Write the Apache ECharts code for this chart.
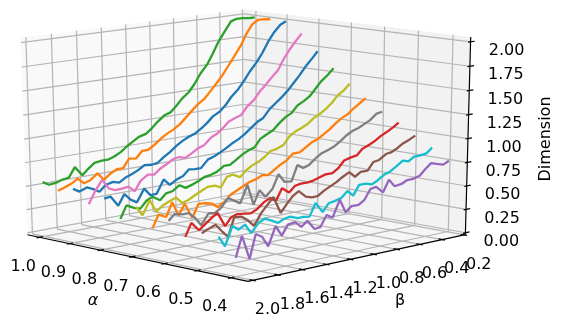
<!DOCTYPE html>
<html><head><meta charset="utf-8">
<style>html,body{margin:0;padding:0;background:#fff}#c{width:563px;height:329px}</style>
<script src="https://cdn.jsdelivr.net/npm/echarts@6/dist/echarts.min.js"></script></head>
<body><div id="c"></div><script>
const alphas=[1.0,0.95,0.9,0.85,0.8,0.75,0.7,0.65,0.6,0.55,0.5,0.45,0.4];
const colors=['#2ca02c','#ff7f0e','#1f77b4','#e377c2','#1f77b4','#2ca02c','#bcbd22','#ff7f0e','#7f7f7f','#d62728','#8c564b','#17becf','#9467bd'];
const betas=[2.0,1.95,1.89,1.84,1.79,1.74,1.68,1.63,1.58,1.52,1.47,1.42,1.36,1.31,1.26,1.21,1.15,1.1,1.05,0.99,0.94,0.89,0.84,0.78,0.73,0.68,0.62,0.57,0.52,0.46,0.41,0.36,0.31,0.25,0.2];
const dimA100=[.56,.52,.53,.55,.56,.66,.56,.62,.67,.68,.68,.70,.74,.79,.83,.87,.89,.94,1.00,1.06,1.08,1.14,1.21,1.27,1.35,1.45,1.54,1.65,1.77,1.88,1.97,1.99,1.99,1.98,1.98];
const dimA095=[.50,.52,.55,.59,.53,.55,.61,.53,.58,.62,.62,.71,.70,.77,.77,.81,.87,.91,.94,.99,1.05,1.11,1.17,1.22,1.29,1.36,1.45,1.54,1.63,1.74,1.86,1.95,1.99,1.99,1.98];
const dimA090=[.55,.51,.54,.51,.47,.53,.55,.53,.57,.60,.63,.67,.66,.67,.72,.76,.82,.86,.89,.92,.96,1.01,1.07,1.11,1.17,1.25,1.32,1.40,1.49,1.58,1.67,1.78,1.87,1.95,1.98];
const dimA085=[.42,.54,.65,.55,.52,.52,.53,.47,.57,.62,.61,.66,.70,.74,.75,.73,.77,.81,.83,.90,.93,.98,1.04,1.07,1.09,1.17,1.23,1.31,1.37,1.45,1.51,1.62,1.71,1.80,1.87];
const dimA080=[.51,.52,.41,.52,.45,.41,.54,.46,.46,.60,.53,.57,.60,.66,.65,.65,.73,.75,.78,.82,.86,.89,.93,.99,1.04,1.07,1.16,1.21,1.26,1.33,1.40,1.47,1.55,1.63,1.70];
const dimA075=[.33,.46,.42,.40,.47,.50,.45,.51,.52,.57,.53,.55,.58,.61,.62,.64,.69,.69,.73,.78,.81,.83,.91,.95,.98,1.04,1.10,1.13,1.20,1.24,1.28,1.35,1.42,1.48,1.54];
const dimA070=[.49,.39,.53,.40,.45,.48,.51,.44,.46,.50,.53,.56,.56,.53,.63,.64,.60,.66,.70,.73,.77,.82,.83,.86,.94,.98,1.01,1.04,1.09,1.13,1.17,1.22,1.29,1.34,1.40];
const dimA065=[.30,.43,.39,.53,.38,.49,.33,.46,.46,.44,.39,.43,.50,.53,.56,.59,.61,.64,.63,.68,.72,.75,.81,.81,.85,.89,.92,.96,1.00,1.06,1.10,1.13,1.18,1.23,1.27];
const dimA060=[.41,.47,.45,.45,.39,.30,.41,.40,.44,.53,.49,.45,.63,.41,.55,.47,.54,.68,.59,.58,.74,.70,.72,.78,.82,.84,.87,.91,.96,1.00,1.02,1.05,1.08,1.14,1.15];
const dimA055=[.28,.41,.32,.37,.42,.46,.31,.39,.41,.40,.39,.42,.48,.51,.47,.59,.53,.59,.60,.60,.61,.63,.65,.65,.69,.76,.78,.79,.85,.88,.91,.95,.98,1.02,1.06];
const dimA050=[.35,.38,.41,.33,.26,.45,.44,.39,.32,.44,.51,.58,.40,.48,.55,.59,.52,.50,.50,.55,.58,.61,.65,.69,.63,.67,.67,.75,.76,.81,.82,.85,.89,.92,.95];
const dimA045=[.35,.24,.43,.38,.42,.32,.41,.44,.41,.37,.40,.41,.38,.38,.37,.50,.39,.47,.48,.50,.56,.50,.60,.60,.58,.61,.66,.68,.72,.77,.75,.79,.79,.80,.85];
const dimA040=[.17,.38,.13,.37,.33,.22,.41,.30,.40,.41,.35,.40,.30,.31,.42,.38,.55,.41,.46,.46,.50,.60,.61,.54,.66,.58,.59,.62,.62,.64,.70,.75,.73,.71,.74];
const dims=[dimA100,dimA095,dimA090,dimA085,dimA080,dimA075,dimA070,dimA065,dimA060,dimA055,dimA050,dimA045,dimA040];
const aTicks=[1.0,0.9,0.8,0.7,0.6,0.5,0.4],bTicks=[2.0,1.8,1.6,1.4,1.2,1.0,0.8,0.6,0.4,0.2],zTicks=[0,0.25,0.5,0.75,1,1.25,1.5,1.75,2];
const aLim=[0.35,1.04],bLim=[0.19,2.04],zLim=[-0.02,2.05];
const cal=[[0,1,0,248,282],[1,1,0,27,234],[1,1,1,21,38],[0,0,0,465,234],[0,0,1,471,37],[1,0,0,245,195],[1,0,1,243,9]];
function solve(){const R=[];for(const [a,b,c,x,y] of cal){R.push([a,b,c,1,0,0,0,0,-x*a,-x*b,-x*c,x]);R.push([0,0,0,0,a,b,c,1,-y*a,-y*b,-y*c,y]);}
 const n=11,M=[];for(let i=0;i<n;i++){M.push(new Array(n+1).fill(0));for(const r of R)for(let j=0;j<=n;j++)M[i][j]+=r[i]*r[j];}
 for(let i=0;i<n;i++){let p=i;for(let k=i+1;k<n;k++)if(Math.abs(M[k][i])>Math.abs(M[p][i]))p=k;[M[i],M[p]]=[M[p],M[i]];
  for(let k=0;k<n;k++)if(k!==i){const f=M[k][i]/M[i][i];for(let j=i;j<=n;j++)M[k][j]-=f*M[i][j];}}
 return M.map((r,i)=>r[n]/r[i]);}
const m=solve();
const na=v=>(v-aLim[0])/(aLim[1]-aLim[0]),nb=v=>(v-bLim[0])/(bLim[1]-bLim[0]),nz=v=>(v-zLim[0])/(zLim[1]-zLim[0]);
function pn(a,b,c){const w=1+m[8]*a+m[9]*b+m[10]*c;return [(m[0]*a+m[1]*b+m[2]*c+m[3])/w,(m[4]*a+m[5]*b+m[6]*c+m[7])/w];}
const P=(al,be,z)=>pn(na(al),nb(be),nz(z));
const polys=[
 {pts:[[1,1,0],[1,0,0],[1,0,1],[1,1,1]],c:'#f9f9f9'},
 {pts:[[0,0,0],[1,0,0],[1,0,1],[0,0,1]],c:'#f2f2f2'},
 {pts:[[0,1,0],[1,1,0],[1,0,0],[0,0,0]],c:'#f6f6f6'}];
const paneSeries={type:'custom',silent:true,z:1,clip:false,data:polys.map((_,i)=>[i]),renderItem(p,api){const d=polys[api.value(0)];return {type:'polygon',shape:{points:d.pts.map(q=>api.coord(pn(...q)))},style:{fill:d.c,stroke:null}};}};
function seg(segs,color,w,z){return {type:'custom',silent:true,z,clip:false,data:segs.map(s=>[s[0][0],s[0][1],s[1][0],s[1][1]]),renderItem(p,api){const a=api.coord([api.value(0),api.value(1)]),b=api.coord([api.value(2),api.value(3)]);return {type:'line',shape:{x1:a[0],y1:a[1],x2:b[0],y2:b[1]},style:{stroke:color,lineWidth:w}};}};}
const grid=[];
for(const t of aTicks){const a=na(t);grid.push([pn(a,1,0),pn(a,0,0)],[pn(a,0,0),pn(a,0,1)]);}
for(const t of bTicks){const b=nb(t);grid.push([pn(0,b,0),pn(1,b,0)],[pn(1,b,0),pn(1,b,1)]);}
for(const t of zTicks){const c=nz(t);grid.push([pn(1,1,c),pn(1,0,c)],[pn(1,0,c),pn(0,0,c)]);}
const ax=[[pn(0,1,0),pn(1,1,0)],[pn(0,1,0),pn(0,0,0)],[pn(0,0,0),pn(0,0,1)]];
const ticks=[];
for(const t of aTicks){const a=na(t);ticks.push([pn(a,1.012,0),pn(a,0.985,0)]);}
for(const t of bTicks){const b=nb(t);ticks.push([pn(-0.012,b,0),pn(0.015,b,0)]);}
for(const t of zTicks){const c=nz(t);ticks.push([pn(0,-0.02,c),pn(0,0.012,c)]);}
const labels=[];
const F='16px "DejaVu Sans"';
for(const t of aTicks){const q=P(t,bLim[1],0);labels.push({t:t.toFixed(1),x:q[0]-16,y:q[1]+31.5});}
for(const t of bTicks){const q=P(aLim[0],t,0);labels.push({t:t.toFixed(1),x:q[0]+14.5,y:q[1]+31.5});}
for(const t of zTicks){const q=P(aLim[0],bLim[0],t);labels.push({t:t.toFixed(2),x:q[0]+36,y:q[1]+9});}
labels.push({t:'α',x:93,y:301,it:1},{t:'β',x:400,y:301},{t:'Dimension',x:546,y:139,r:Math.PI/2});
const textSeries={type:'custom',silent:true,z:20,clip:false,data:labels.map((_,i)=>[i]),renderItem(p,api){const l=labels[api.value(0)],c=api.coord([l.x,l.y]);return {type:'text',x:c[0],y:c[1],rotation:l.r||0,style:{text:l.t,font:(l.it?'italic ':'')+F,fill:'#000',textAlign:'center',textVerticalAlign:'middle',align:'center',verticalAlign:'middle'}};}};
const curves=dims.map((r,k)=>({type:'line',silent:true,z:10+k*0.01,showSymbol:false,clip:false,lineStyle:{color:colors[k],width:2.3},data:r.map((z,i)=>P(alphas[k],betas[i],z))}));
const chart=echarts.init(document.getElementById('c'),null,{renderer:'canvas'});
chart.setOption({animation:false,backgroundColor:'#fff',grid:{left:0,right:0,top:0,bottom:0},
 xAxis:{type:'value',min:0,max:563,show:false},yAxis:{type:'value',min:0,max:329,inverse:true,show:false},
 series:[paneSeries,seg(grid,'#b4b4b4',1.2,2),seg(ax,'#000',1.2,3),seg(ticks,'#000',1.2,3),...curves,textSeries]});
</script></body></html>
